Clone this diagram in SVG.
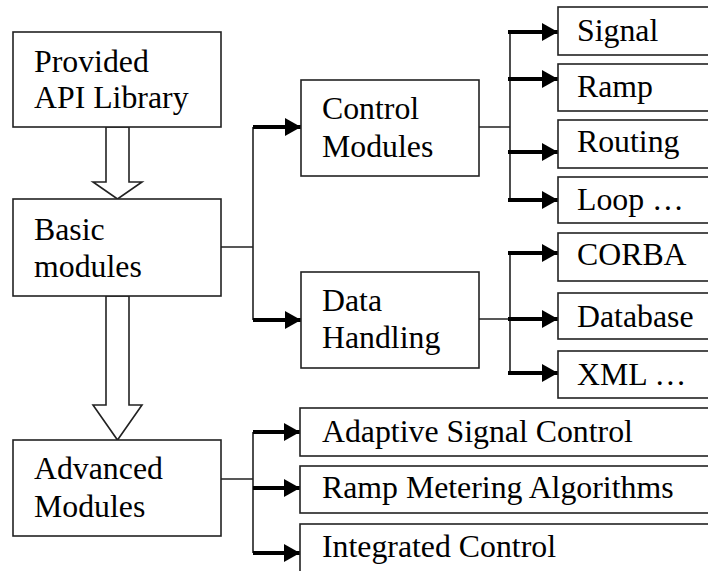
<svg xmlns="http://www.w3.org/2000/svg" width="708" height="571" viewBox="0 0 708 571">
<style>
.box{fill:#fff;stroke:#222;stroke-width:1.6}
.t{font-family:"Liberation Serif","Times New Roman",serif;font-size:31.8px;fill:#000}
.thin{fill:none;stroke:#222;stroke-width:1.6}
.arr{fill:none;stroke:#000;stroke-width:4;marker-end:url(#ah)}
.hollow{fill:#fff;stroke:#222;stroke-width:1.6;stroke-linejoin:miter}
</style>
<defs>
<marker id="ah" markerUnits="userSpaceOnUse" markerWidth="17" markerHeight="18" refX="16" refY="9" orient="auto">
<path d="M0,0 L16,9 L0,18 z" fill="#000"/>
</marker>
</defs>
<rect width="708" height="571" fill="#fff"/>
<g id="connectors">
<polygon class="hollow" points="106,127 129,127 129,182 142,182 117.5,199 93,182 106,182"/>
<polygon class="hollow" points="106,296 129,296 129,405 142,405 117.5,440 93,405 106,405"/>
<path class="thin" d="M221,247 H253 M253,127 V320"/>
<path class="arr" d="M253,127 H301"/>
<path class="arr" d="M253,320 H301"/>
<path class="thin" d="M479,127 H510 M510,32 V200"/>
<path class="arr" d="M508,32 H558"/>
<path class="arr" d="M508,79 H558"/>
<path class="arr" d="M508,152 H558"/>
<path class="arr" d="M508,200 H558"/>
<path class="thin" d="M479,319 H510 M510,253 V373"/>
<path class="arr" d="M508,253 H558"/>
<path class="arr" d="M508,319 H558"/>
<path class="arr" d="M508,373 H558"/>
<path class="thin" d="M221,479 H253 M253,432 V553"/>
<path class="arr" d="M253,432 H300"/>
<path class="arr" d="M253,488 H300"/>
<path class="arr" d="M253,553 H300"/>
</g>
<g id="provided"><rect class="box" x="13" y="32" width="208" height="95"/><text class="t" x="34" y="72">Provided</text><text class="t" x="34" y="108">API Library</text></g>
<g id="basic"><rect class="box" x="13" y="199" width="208" height="97"/><text class="t" x="34" y="240">Basic</text><text class="t" x="34" y="277">modules</text></g>
<g id="advanced"><rect class="box" x="13" y="440" width="208" height="96"/><text class="t" x="34" y="479">Advanced</text><text class="t" x="34" y="517">Modules</text></g>
<g id="control"><rect class="box" x="301" y="80" width="178" height="96"/><text class="t" x="322" y="119">Control</text><text class="t" x="322" y="157">Modules</text></g>
<g id="data"><rect class="box" x="301" y="272" width="178" height="96"/><text class="t" x="322" y="311">Data</text><text class="t" x="322" y="348">Handling</text></g>
<g id="signal"><rect class="box" x="558" y="7" width="170" height="48"/><text class="t" x="577" y="41">Signal</text></g>
<g id="ramp"><rect class="box" x="558" y="64" width="170" height="47"/><text class="t" x="577" y="97">Ramp</text></g>
<g id="routing"><rect class="box" x="558" y="120" width="170" height="48"/><text class="t" x="577" y="152">Routing</text></g>
<g id="loop"><rect class="box" x="558" y="177" width="170" height="46"/><text class="t" x="577" y="210">Loop …</text></g>
<g id="corba"><rect class="box" x="558" y="233" width="170" height="48"/><text class="t" x="577" y="265">CORBA</text></g>
<g id="database"><rect class="box" x="558" y="293" width="170" height="46"/><text class="t" x="577" y="327">Database</text></g>
<g id="xml"><rect class="box" x="558" y="351" width="170" height="47"/><text class="t" x="577" y="385">XML …</text></g>
<g id="adaptive"><rect class="box" x="300" y="408" width="428" height="48"/><text class="t" x="322" y="442">Adaptive Signal Control</text></g>
<g id="rampmeter"><rect class="box" x="300" y="466" width="428" height="47"/><text class="t" x="322" y="498">Ramp Metering Algorithms</text></g>
<g id="integrated"><rect class="box" x="300" y="524" width="428" height="70"/><text class="t" x="322" y="557">Integrated Control</text></g>
</svg>
